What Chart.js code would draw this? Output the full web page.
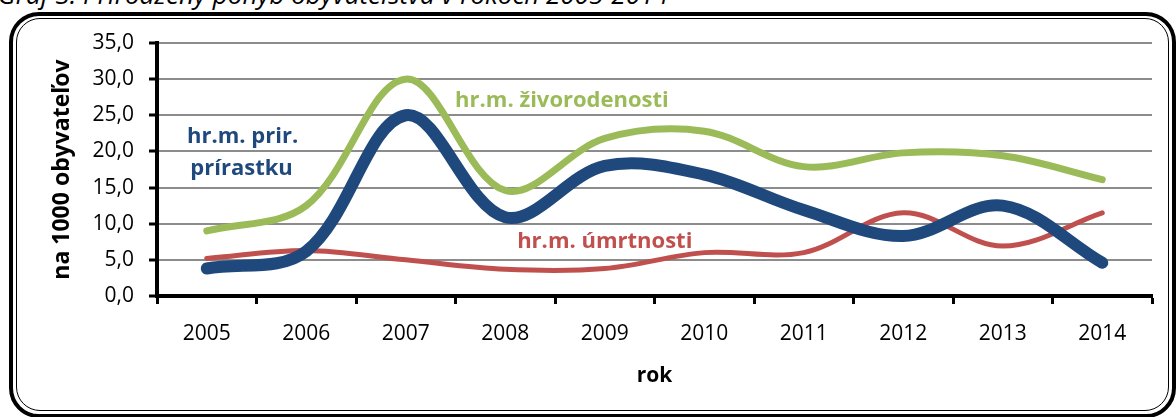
<!DOCTYPE html>
<html><head><meta charset="utf-8">
<script src="https://cdn.jsdelivr.net/npm/chart.js@4.4.1/dist/chart.umd.min.js"></script>
<style>
html,body{margin:0;padding:0;background:#fff;}
#wrap{position:relative;width:1176px;height:417px;overflow:hidden;background:#fff;}
#title{position:absolute;left:-2px;top:-20px;font:italic 26px "Open Sans",sans-serif;white-space:nowrap;color:#000;line-height:29px;}
#b1{position:absolute;left:9px;top:12px;width:1159px;height:398px;border:4px solid #000;border-radius:30px;}
#b2{position:absolute;left:16px;top:18px;width:1151px;height:391px;border:1.5px solid #000;border-radius:24px;}
canvas{position:absolute;left:0;top:0;}
</style></head>
<body>
<div id="wrap">
<div id="title">Graf 3. Prirodzený pohyb obyvateľstva v rokoch 2005-2014</div>
<div id="b1"></div><div id="b2"></div>
<canvas id="c" width="1176" height="417"></canvas>
</div>
<script>
const years = ['2005','2006','2007','2008','2009','2010','2011','2012','2013','2014'];
const zivorodenost = [9.0, 12.5, 30.0, 14.6, 21.8, 22.8, 17.9, 19.8, 19.4, 16.1];
const umrtnost = [5.2, 6.3, 5.0, 3.7, 3.8, 6.0, 6.0, 11.5, 6.9, 11.5];
const prirastok = [3.8, 6.2, 25.0, 10.9, 18.0, 16.8, 11.9, 8.3, 12.5, 4.6];
const yTickLabels = ['0,0','5,0','10,0','15,0','20,0','25,0','30,0','35,0'];
const seriesLabels = ['hr.m. živorodenosti', 'hr.m. úmrtnosti', ['hr.m. prir.', 'prírastku']];

const FONT = '"Open Sans", sans-serif';

const labelPlugin = {
  id: 'inlineLabels',
  afterDatasetsDraw(chart) {
    const ctx = chart.ctx;
    const x = chart.scales.x, y = chart.scales.y;
    ctx.save();
    ctx.font = 'bold 22px ' + FONT;
    ctx.textAlign = 'center';
    ctx.textBaseline = 'alphabetic';
    ctx.fillStyle = '#9BBB59';
    ctx.fillText(seriesLabels[0], x.getPixelForValue(3.57), y.getPixelForValue(26.2));
    ctx.fillStyle = '#C0504D';
    ctx.fillText(seriesLabels[1], x.getPixelForValue(4.0), y.getPixelForValue(6.6));
    ctx.fillStyle = '#1F497D';
    ctx.fillText(seriesLabels[2][0], x.getPixelForValue(0.36), y.getPixelForValue(21.2));
    ctx.fillText(seriesLabels[2][1], x.getPixelForValue(0.35), y.getPixelForValue(16.8));
    ctx.restore();
  }
};

new Chart(document.getElementById('c'), {
  type: 'line',
  data: {
    labels: years,
    datasets: [
      { label: 'prirastok', data: prirastok, borderColor: '#1F497D', borderWidth: 12, order: 0 },
      { label: 'umrtnost', data: umrtnost, borderColor: '#C0504D', borderWidth: 5, order: 1 },
      { label: 'zivorodenost', data: zivorodenost, borderColor: '#9BBB59', borderWidth: 7, order: 2 }
    ]
  },
  options: {
    responsive: false,
    animation: false,
    devicePixelRatio: 1,
    layout: { padding: { left: 0, right: 24, top: 43, bottom: 0 } },
    elements: {
      line: { tension: 0.35, borderCapStyle: 'round', borderJoinStyle: 'round', fill: false },
      point: { radius: 0, hoverRadius: 0 }
    },
    plugins: { legend: { display: false }, tooltip: { enabled: false } },
    scales: {
      x: {
        offset: true,
        grid: { offset: true, drawOnChartArea: false, drawTicks: true, tickLength: 8, tickColor: '#000', tickWidth: 3 },
        border: { display: true, color: '#000', width: 4 },
        ticks: { color: '#000', font: { family: FONT, size: 21 }, padding: 17, maxRotation: 0, autoSkip: false },
        title: { display: true, text: 'rok', color: '#000', font: { family: FONT, size: 21, weight: 'bold' }, padding: { top: 4, bottom: 28 } },
        afterFit(s) { s.height = 121; }
      },
      y: {
        min: 0, max: 35,
        ticks: { stepSize: 5, color: '#000', font: { family: FONT, size: 21 }, padding: 15,
          callback: (v, i) => yTickLabels[i] },
        grid: { color: '#8C8C8C', lineWidth: 2, drawTicks: true, tickLength: 8, tickColor: '#000', tickWidth: 3 },
        border: { display: true, color: '#000', width: 4 },
        title: { display: true, text: 'na 1000 obyvateľov', color: '#000', font: { family: FONT, size: 23, weight: 'bold' }, padding: { top: 49, bottom: 4 } },
        afterFit(s) { s.width = 157; }
      }
    }
  },
  plugins: [labelPlugin]
});
</script>
</body></html>
